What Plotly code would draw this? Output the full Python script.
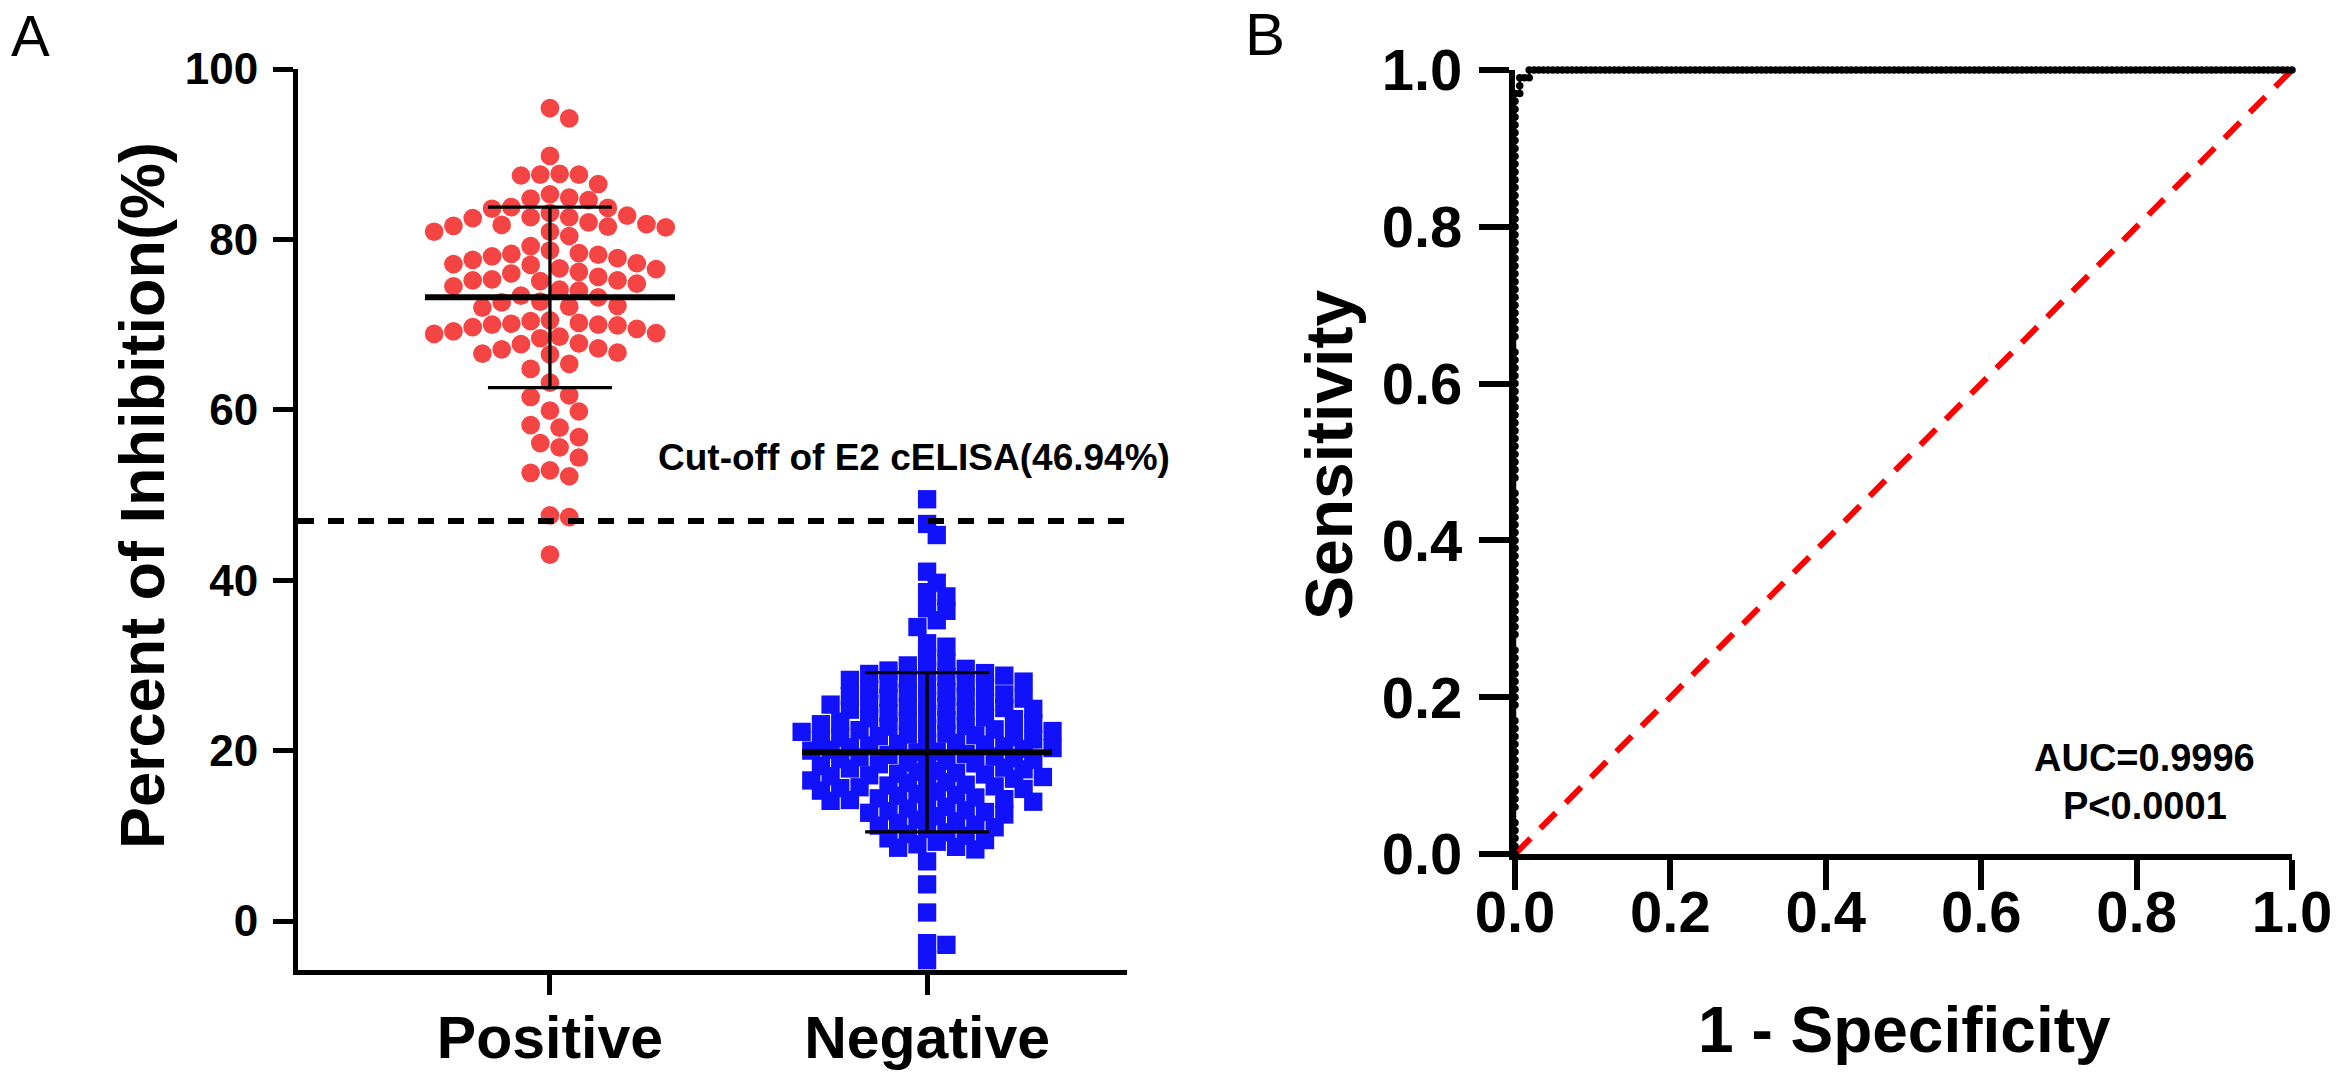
import math
import plotly.graph_objects as go

# ---------------- data ----------------
categories = ["Positive", "Negative"]

positive_values = [
    95.4, 94.2, 89.8, 87.6, 87.7, 87.5, 87.6, 86.5, 84.6, 85.3,
    84.9, 84.8, 83.7, 83.6, 83.8, 82.6, 82.8, 82.5, 83.1, 81.8,
    81.5, 80.9, 81.4, 82.6, 81.7, 82.0, 81.6, 80.4, 80.9, 79.2,
    78.4, 77.8, 78.0, 78.7, 78.3, 78.2, 77.6, 77.1, 77.0, 77.2,
    76.2, 75.2, 75.6, 76.0, 74.8, 75.3, 76.5, 76.6, 75.1, 74.5,
    75.2, 72.7, 73.4, 74.0, 74.1, 73.2, 72.6, 72.2, 72.0, 72.1,
    69.5, 70.1, 69.7, 70.5, 69.2, 70.4, 70.0, 70.2, 69.0, 68.6,
    69.9, 70.0, 68.9, 68.4, 67.7, 67.1, 66.6, 67.2, 66.5, 67.8,
    66.7, 65.4, 64.8, 63.2, 61.7, 61.5, 59.8, 59.9, 58.2, 57.9,
    56.8, 56.1, 55.6, 54.4, 52.9, 52.2, 52.6, 47.6, 47.4, 43.0,
]

negative_values = [
    49.5, 46.6, 45.3, 41.0, 39.7, 38.6, 38.1, 36.7, 36.4, 35.3,
    34.5, 32.6, 32.2, 30.9, 30.3, 30.0,
    29.6, 29.3, 29.1, 28.8, 29.4, 29.0, 28.7,
    28.3, 27.9, 27.6, 28.1, 27.4, 27.8, 28.4, 27.2,
    26.8, 26.4, 26.1, 25.9, 26.6, 26.3, 26.9, 25.7, 26.2,
    25.4, 25.0, 24.8, 24.4, 24.9, 25.2, 24.3, 25.5, 24.6, 25.1,
    23.9, 23.5, 23.2, 22.9, 23.6, 23.1, 23.8, 22.8, 23.4, 23.7, 22.6,
    22.4, 22.0, 21.7, 21.5, 22.2, 21.8, 22.5, 21.3, 21.9, 21.6, 22.3, 21.2,
    20.9, 20.5, 20.2, 20.0, 20.8, 20.4, 19.9, 20.7, 20.1, 20.6, 19.8, 21.0, 20.3,
    19.5, 19.1, 18.8, 18.5, 19.3, 18.9, 18.4, 19.2, 18.6, 19.0, 18.2, 19.6, 18.7,
    17.9, 17.5, 17.2, 17.0, 17.8, 17.3, 16.9, 17.6, 17.1, 17.4, 16.7, 18.0,
    16.4, 16.0, 15.7, 15.5, 16.3, 15.8, 15.3, 16.2, 15.6, 15.9, 15.2, 16.5,
    14.9, 14.5, 14.2, 14.0, 14.8, 14.3, 13.8, 14.7, 14.1, 14.4,
    13.4, 13.0, 12.7, 12.5, 13.2, 12.8, 12.3, 12.9,
    11.9, 11.5, 11.2, 11.0, 11.7, 11.3, 10.8,
    10.4, 10.0, 9.7, 9.5, 10.2, 9.3,
    9.0, 8.7, 8.4, 8.6,
    7.0, 4.3, 1.0, -2.6, -2.8, -4.6,
]

group_means = [73.2, 19.8]
group_sds = [10.6, 9.35]
cutoff_value = 46.94
cutoff_label = "Cut-off of E2 cELISA(46.94%)"
left_y_ticks = [0, 20, 40, 60, 80, 100]
roc_ticks = [0.0, 0.2, 0.4, 0.6, 0.8, 1.0]
chance_line = [0.0, 1.0]
auc_label = "AUC=0.9996"
p_label = "P<0.0001"

# ---------------- layout constants ----------------
W, H = 2341, 1074
FONT = "Liberation Sans, Arial, sans-serif"
RED = "#F54444"
BLUE = "#1212FA"

L_X0, L_X1 = 298, 1127          # left plot pixel extents
L_YT, L_YB = 69, 970
L_XRANGE = [-0.668, 1.530]
L_YRANGE = [-5.75, 100]

R_X0, R_X1 = 1515, 2292
R_YT, R_YB = 70, 854

px_per_x = (L_X1 - L_X0) / (L_XRANGE[1] - L_XRANGE[0])
px_per_y = (L_YB - L_YT) / (L_YRANGE[1] - L_YRANGE[0])


def swarm(values, step_px, min_dist_px):
    """Greedy beeswarm on a half-step grid; returns x offsets in data units."""
    order = sorted(range(len(values)), key=lambda i: -values[i])
    cands = [0.0]
    for k in range(1, 60):
        cands += [k * 0.5, -k * 0.5]
    placed = []
    offs = [0.0] * len(values)
    for i in order:
        y = values[i] * px_per_y
        for c in cands:
            x = c * step_px
            if all(math.hypot(x - px, y - py) >= min_dist_px for px, py in placed):
                break
        placed.append((x, y))
        offs[i] = x / px_per_x
    return offs


pos_off = swarm(positive_values, 19.3, 18.6)
neg_off = swarm(negative_values, 19.3, 13.0)

fig = go.Figure()

# points
fig.add_trace(go.Scatter(
    x=[0 + o for o in pos_off], y=positive_values, mode="markers",
    marker=dict(symbol="circle", size=18.7, color=RED, line=dict(width=0)),
    xaxis="x", yaxis="y", showlegend=False, cliponaxis=False))
fig.add_trace(go.Scatter(
    x=[1 + o for o in neg_off], y=negative_values, mode="markers",
    marker=dict(symbol="square", size=18.3, color=BLUE, line=dict(width=0)),
    xaxis="x", yaxis="y", showlegend=False, cliponaxis=False))

# mean and SD lines
MEAN_HALF = 125 / px_per_x
CAP_HALF = 62 / px_per_x
for gi, (m, s) in enumerate(zip(group_means, group_sds)):
    fig.add_trace(go.Scatter(
        x=[gi - MEAN_HALF, gi + MEAN_HALF], y=[m, m], mode="lines",
        line=dict(color="black", width=6), xaxis="x", yaxis="y",
        showlegend=False, hoverinfo="skip"))
    fig.add_trace(go.Scatter(
        x=[gi - CAP_HALF, gi + CAP_HALF, None, gi, gi, None, gi - CAP_HALF, gi + CAP_HALF],
        y=[m + s, m + s, None, m + s, m - s, None, m - s, m - s], mode="lines",
        line=dict(color="black", width=3.3), xaxis="x", yaxis="y",
        showlegend=False, hoverinfo="skip"))

# cut-off line
fig.add_shape(type="line", xref="x domain", yref="y", x0=0, x1=1,
              y0=cutoff_value, y1=cutoff_value,
              line=dict(color="black", width=6, dash="16px,14px"), layer="above")

# ROC curve computed from the two groups
all_thr = sorted(set(positive_values + negative_values), reverse=True)
n_pos, n_neg = len(positive_values), len(negative_values)
roc_x, roc_y = [0.0], [0.0]
for t in all_thr:
    roc_y.append(sum(v >= t for v in positive_values) / n_pos)
    roc_x.append(sum(v >= t for v in negative_values) / n_neg)

fig.add_trace(go.Scatter(
    x=chance_line, y=chance_line, mode="lines",
    line=dict(color="#FF0000", width=6, dash="22px,14px"),
    xaxis="x2", yaxis="y2", showlegend=False, cliponaxis=False))
fig.add_trace(go.Scatter(
    x=roc_x, y=roc_y, mode="lines+markers",
    line=dict(color="black", width=2.5), marker=dict(size=7.5, color="black"),
    xaxis="x2", yaxis="y2", showlegend=False, cliponaxis=False))

axis_common = dict(showgrid=False, zeroline=False, showline=True, linecolor="black",
                   ticks="outside", tickcolor="black", mirror=False, automargin=False)

fig.update_layout(
    width=W, height=H, margin=dict(l=0, r=0, t=0, b=0, pad=0, autoexpand=False),
    paper_bgcolor="white", plot_bgcolor="white",
    font=dict(family=FONT, color="black"),
    xaxis=dict(axis_common, domain=[L_X0 / W, L_X1 / W], range=L_XRANGE,
               tickvals=[0, 1], ticktext=categories, linewidth=5, tickwidth=5, ticklen=20,
               tickfont=dict(size=59, weight="bold"), ticklabelstandoff=-8, anchor="y"),
    yaxis=dict(axis_common, domain=[1 - L_YB / H, 1 - L_YT / H], range=L_YRANGE,
               tickvals=left_y_ticks, linewidth=5, tickwidth=5, ticklen=20,
               tickfont=dict(size=44, weight="bold"), ticklabelstandoff=6, anchor="x"),
    xaxis2=dict(axis_common, domain=[R_X0 / W, R_X1 / W], range=[0, 1],
                tickvals=roc_ticks, tickformat=".1f", linewidth=6, tickwidth=6, ticklen=30,
                tickfont=dict(size=58, weight="bold"), ticklabelstandoff=-28, anchor="y2"),
    yaxis2=dict(axis_common, domain=[1 - R_YB / H, 1 - R_YT / H], range=[0, 1],
                tickvals=roc_ticks, tickformat=".1f", linewidth=6, tickwidth=6, ticklen=30,
                tickfont=dict(size=58, weight="bold"), ticklabelstandoff=5, anchor="x2"),
)

def ann(text, xpx, ypx, size, bold=True, angle=0):
    fig.add_annotation(text=text, xref="paper", yref="paper", x=xpx / W, y=1 - ypx / H,
                       xanchor="center", yanchor="middle", showarrow=False, textangle=angle,
                       font=dict(size=size, family=FONT, color="black",
                                 weight="bold" if bold else "normal"))

ann("A", 30, 36, 58, bold=False)
ann("B", 1265, 34, 60, bold=False)
ann("Percent of Inhibition(%)", 142, 496, 63, angle=-90)
ann(cutoff_label, 914, 458, 37)
ann("Sensitivity", 1329, 455, 66, angle=-90)
ann("1 - Specificity", 1904, 1030, 64)
ann(auc_label, 2144, 758, 38)
ann(p_label, 2145, 806, 38)

fig.write_html("out.html", config={"displayModeBar": False},
               post_script="document.body.style.margin='0';document.body.style.overflow='hidden';")
